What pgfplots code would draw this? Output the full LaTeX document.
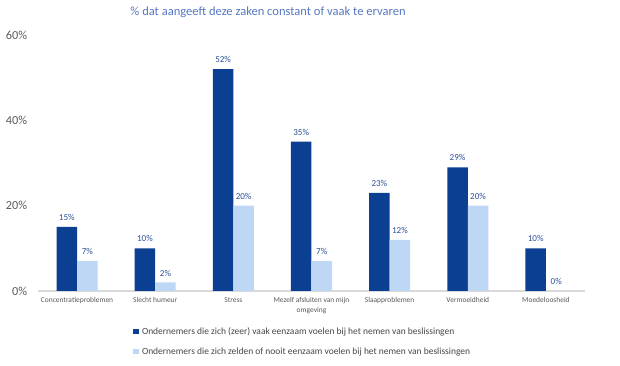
\documentclass[border=0pt]{standalone}
\usepackage{fontspec}
\setmainfont{Carlito}
\usepackage{pgfplots}
\pgfplotsset{compat=1.18}
\definecolor{darkb}{HTML}{0B3F91}
\definecolor{lightb}{HTML}{BDD7F5}
\definecolor{labb}{HTML}{2A4F95}
\definecolor{titb}{HTML}{5577C0}
\definecolor{txtg}{HTML}{595959}
\definecolor{axg}{HTML}{D9D9D9}
\begin{document}
\begin{tikzpicture}
\path[use as bounding box] (0pt,0pt) rectangle (465pt,274.5pt);
\node[text=titb, font=\fontsize{9.4pt}{11pt}\selectfont, inner sep=0pt] at (201pt,265.5pt) {\% dat aangeeft deze zaken constant of vaak te ervaren};
\begin{axis}[
  at={(28.5pt,56.25pt)}, anchor=south west,
  scale only axis, width=410.25pt, height=192pt,
  ybar=0pt, bar width=15.4pt,
  xmin=-0.5, xmax=6.5, ymin=0, ymax=60,
  xtick={0,...,6}, xticklabels={Concentratieproblemen, Slecht humeur, Stress, {Mezelf afsluiten van mijn\\omgeving}, Slaapproblemen, Vermoeidheid, Moedeloosheid},
  ytick={0,20,40,60},
  yticklabel={\pgfmathprintnumber{\tick}\%},
  /pgf/number format/assume math mode=true,
  major tick length=0pt,
  axis x line*=bottom, axis y line*=left,
  x axis line style={draw=axg, line width=0.8pt, -},
  y axis line style={draw=none},
  xticklabel style={font=\fontsize{5.6pt}{7.5pt}\selectfont, text=txtg, align=center, inner sep=0pt, yshift=-4.5pt, anchor=north},
  yticklabel style={font=\fontsize{9.2pt}{10pt}\selectfont, text=txtg, inner sep=0pt, xshift=-8pt, anchor=east},
  nodes near coords={\pgfmathprintnumber{\pgfplotspointmeta}\%},
  nodes near coords style={font=\fontsize{6.8pt}{8pt}\selectfont, text=labb, inner sep=0pt, anchor=south, yshift=4.5pt},
  legend cell align=left,
  legend style={draw=none, at={(0.166,-0.127)}, anchor=north west,
    font=\fontsize{7.1pt}{8.5pt}\selectfont, text=txtg!80!black,
    nodes={inner sep=0pt, text height=6pt, text depth=1.5pt},
    row sep=7.5pt, column sep=2.5pt},
  legend image code/.code={\fill[#1] (0pt,-2.2pt) rectangle (4.2pt,2.2pt);},
]
\addplot[fill=darkb, draw=none] coordinates {(0,15) (1,10) (2,52) (3,35) (4,23) (5,29) (6,10)};
\addplot[fill=lightb, draw=none] coordinates {(0,7) (1,2) (2,20) (3,7) (4,12) (5,20) (6,0)};
\legend{Ondernemers die zich (zeer) vaak eenzaam voelen bij het nemen van beslissingen, Ondernemers die zich zelden of nooit eenzaam voelen bij het nemen van beslissingen}
\end{axis}
\end{tikzpicture}
\end{document}
